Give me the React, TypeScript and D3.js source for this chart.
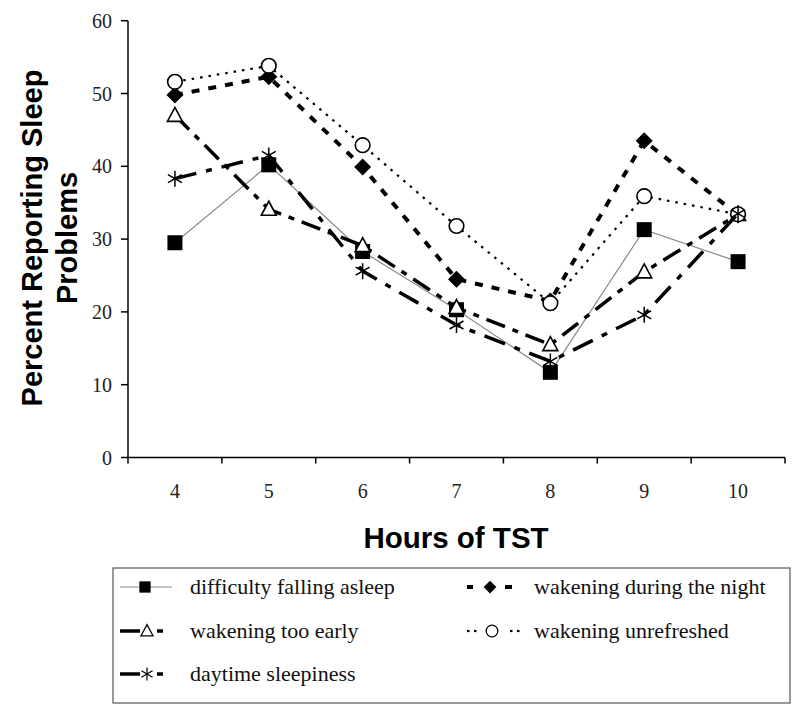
import React, { useEffect, useRef } from "react";
import * as d3 from "d3";

const hours = ["4", "5", "6", "7", "8", "9", "10"];
const yTicks = [0, 10, 20, 30, 40, 50, 60];

const fallingAsleep = [29.5, 40.2, 28.3, 20.3, 11.7, 31.3, 26.9];
const duringNight = [49.8, 52.3, 39.9, 24.5, 21.5, 43.5, 33.3];
const tooEarly = [47.0, 34.1, 29.1, 20.6, 15.5, 25.5, 33.4];
const unrefreshed = [51.6, 53.8, 42.9, 31.8, 21.2, 35.9, 33.4];
const sleepiness = [38.3, 41.5, 25.6, 18.2, 13.2, 19.6, 33.5];

const seriesNames = [
  "difficulty falling asleep",
  "wakening during the night",
  "wakening too early",
  "wakening unrefreshed",
  "daytime sleepiness",
];

type Style = {
  stroke: string;
  width: number;
  dash: string;
  marker: string;
};

const styles: Style[] = [
  { stroke: "#8a8a8a", width: 1.2, dash: "", marker: "square" },
  { stroke: "#000", width: 4, dash: "8,9", marker: "diamond" },
  { stroke: "#000", width: 3.5, dash: "20,8,6,8", marker: "triangle" },
  { stroke: "#000", width: 2.2, dash: "2.5,6", marker: "circle" },
  { stroke: "#000", width: 3.5, dash: "22,10,6,10", marker: "star" },
];

function drawMarker(g: any, type: string, x: number, y: number) {
  if (type === "square") {
    g.append("rect").attr("x", x - 7.5).attr("y", y - 7.5).attr("width", 15).attr("height", 15).attr("fill", "#000");
  } else if (type === "diamond") {
    g.append("path").attr("d", `M${x},${y - 8.5}L${x + 8.5},${y}L${x},${y + 8.5}L${x - 8.5},${y}Z`).attr("fill", "#000");
  } else if (type === "triangle") {
    g.append("path").attr("d", `M${x},${y - 8}L${x + 7.5},${y + 6}L${x - 7.5},${y + 6}Z`).attr("fill", "#fff").attr("stroke", "#000").attr("stroke-width", 1.6);
  } else if (type === "circle") {
    g.append("circle").attr("cx", x).attr("cy", y).attr("r", 7.3).attr("fill", "#fff").attr("stroke", "#000").attr("stroke-width", 1.6);
  } else if (type === "star") {
    const r = 8;
    const d = `M${x},${y - r}L${x},${y + r}M${x - r * 0.87},${y - r * 0.5}L${x + r * 0.87},${y + r * 0.5}M${x - r * 0.87},${y + r * 0.5}L${x + r * 0.87},${y - r * 0.5}`;
    g.append("path").attr("d", d).attr("stroke", "#000").attr("stroke-width", 1.5).attr("fill", "none");
  }
}

export default function App() {
  const ref = useRef<SVGSVGElement>(null);

  useEffect(() => {
    const svg = d3.select(ref.current);
    svg.selectAll("*").remove();
    const data = [fallingAsleep, duringNight, tooEarly, unrefreshed, sleepiness];

    const x = d3.scaleBand().domain(hours).range([128, 785]);
    const y = d3.scaleLinear().domain([0, 60]).range([457.5, 20.7]);
    const cx = (h: string) => (x(h) as number) + x.bandwidth() / 2;

    const serif = "'Liberation Serif', 'Times New Roman', serif";
    const sans = "'Liberation Sans', Arial, sans-serif";

    // axes
    const axis = svg.append("g");
    axis.append("line").attr("x1", 128).attr("x2", 128).attr("y1", y(60)).attr("y2", y(0)).attr("stroke", "#000").attr("stroke-width", 1.5);
    axis.append("line").attr("x1", 128).attr("x2", 785).attr("y1", y(0)).attr("y2", y(0)).attr("stroke", "#000").attr("stroke-width", 1.5);
    yTicks.forEach((t) => {
      axis.append("line").attr("x1", 121).attr("x2", 128).attr("y1", y(t)).attr("y2", y(t)).attr("stroke", "#000").attr("stroke-width", 1.5);
      axis.append("text").attr("x", 112).attr("y", y(t) + 7).attr("text-anchor", "end").attr("font-family", serif).attr("font-size", 20).attr("fill", "#222").text(String(t));
    });
    const boundaries = hours.map((h) => x(h) as number).concat([785]);
    boundaries.forEach((b) => {
      axis.append("line").attr("x1", b).attr("x2", b).attr("y1", y(0)).attr("y2", y(0) + 6).attr("stroke", "#000").attr("stroke-width", 1.5);
    });
    hours.forEach((h) => {
      axis.append("text").attr("x", cx(h)).attr("y", 498).attr("text-anchor", "middle").attr("font-family", serif).attr("font-size", 20).attr("fill", "#222").text(h);
    });

    // titles
    svg.append("text").attr("x", 456).attr("y", 548).attr("text-anchor", "middle").attr("font-family", sans).attr("font-weight", "bold").attr("font-size", 29.5).attr("fill", "#000").text("Hours of TST");
    const yt = svg.append("text").attr("transform", "translate(0,238) rotate(-90)").attr("text-anchor", "middle").attr("font-family", sans).attr("font-weight", "bold").attr("font-size", 29).attr("fill", "#000");
    yt.append("tspan").attr("x", 0).attr("y", 42).text("Percent Reporting Sleep");
    yt.append("tspan").attr("x", 0).attr("y", 77).text("Problems");

    // series
    const line = d3.line<number>().x((_, i) => cx(hours[i])).y((v) => y(v));
    data.forEach((vals, si) => {
      const st = styles[si];
      const g = svg.append("g");
      g.append("path").attr("d", line(vals) as string).attr("fill", "none").attr("stroke", st.stroke).attr("stroke-width", st.width).attr("stroke-dasharray", st.dash || null);
      vals.forEach((v, i) => drawMarker(g, st.marker, cx(hours[i]), y(v)));
    });

    // legend
    const lg = svg.append("g");
    lg.append("rect").attr("x", 113).attr("y", 568).attr("width", 677).attr("height", 135).attr("fill", "#fff").attr("stroke", "#555").attr("stroke-width", 1.2);
    const pos = [
      { lx: 120, ty: 587, tx: 190 },
      { lx: 465, ty: 587, tx: 534 },
      { lx: 120, ty: 631, tx: 190 },
      { lx: 465, ty: 631, tx: 534 },
      { lx: 120, ty: 674, tx: 190 },
    ];
    pos.forEach((p, si) => {
      const st = styles[si];
      const g = lg.append("g");
      if (st.marker === "square") {
        g.append("line").attr("x1", p.lx).attr("x2", p.lx + 52).attr("y1", p.ty).attr("y2", p.ty).attr("stroke", st.stroke).attr("stroke-width", 1.2);
      } else if (st.marker === "diamond") {
        g.append("line").attr("x1", p.lx + 2).attr("x2", p.lx + 8).attr("y1", p.ty).attr("y2", p.ty).attr("stroke", "#000").attr("stroke-width", 4);
        g.append("line").attr("x1", p.lx + 40).attr("x2", p.lx + 47).attr("y1", p.ty).attr("y2", p.ty).attr("stroke", "#000").attr("stroke-width", 4);
      } else if (st.marker === "circle") {
        [p.lx + 2, p.lx + 9, p.lx + 45, p.lx + 52].forEach((dx) => {
          g.append("line").attr("x1", dx).attr("x2", dx + 2.5).attr("y1", p.ty).attr("y2", p.ty).attr("stroke", "#000").attr("stroke-width", 2.2);
        });
      } else {
        g.append("line").attr("x1", p.lx).attr("x2", p.lx + 20).attr("y1", p.ty).attr("y2", p.ty).attr("stroke", "#000").attr("stroke-width", 3.5);
        g.append("line").attr("x1", p.lx + 37).attr("x2", p.lx + 43).attr("y1", p.ty).attr("y2", p.ty).attr("stroke", "#000").attr("stroke-width", 3.5);
      }
      const small = g.append("g");
      const mxx = st.marker === "square" || st.marker === "diamond" ? p.lx + 25 : p.lx + 27;
      drawMarker(small, st.marker, 0, 0);
      const k = st.marker === "square" || st.marker === "diamond" ? 0.75 : 0.8;
      small.attr("transform", `translate(${mxx},${p.ty}) scale(${k})`);
      g.append("text").attr("x", p.tx).attr("y", p.ty + 7).attr("font-family", serif).attr("font-size", 22).attr("fill", "#111").text(seriesNames[si]);
    });
  }, []);

  return (
    <svg ref={ref} width={800} height={717} style={{ position: "absolute", left: 0, top: 0, background: "#fff" }} />
  );
}
